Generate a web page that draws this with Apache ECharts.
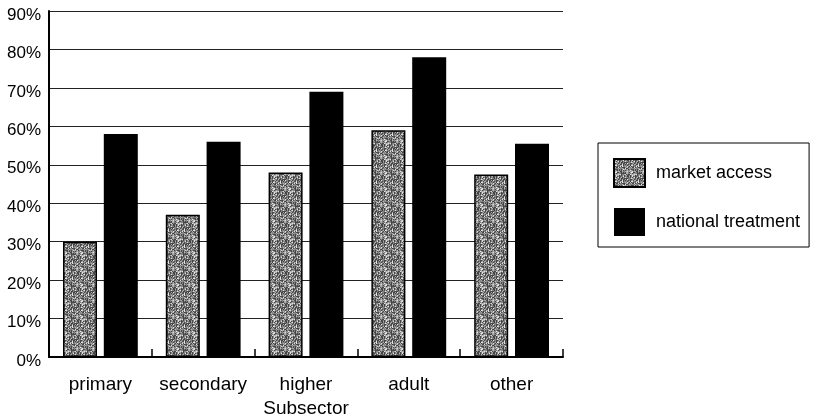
<!DOCTYPE html>
<html><head><meta charset="utf-8">
<script src="https://cdn.jsdelivr.net/npm/echarts@6/dist/echarts.min.js"></script>
<style>html,body{margin:0;padding:0;background:#fff}#c{width:816px;height:419px}</style>
</head><body><div id="c"></div>
<script>
const categories = ['primary','secondary','higher','adult','other'];
const marketAccess = [30, 37, 48, 59, 47.5];
const nationalTreatment = [58, 56, 69, 78, 55.5];
const yTicks = [0,10,20,30,40,50,60,70,80,90];

// speckled gray texture (deterministic hash)
const pc = document.createElement('canvas');
pc.width = 16; pc.height = 16;
const g = pc.getContext('2d');
for (let y = 0; y < 16; y++) {
  for (let x = 0; x < 16; x++) {
    const h = ((x * 73856093) ^ (y * 19349663) ^ ((x + y) * 83492791)) >>> 0;
    const r = (h % 97) / 97;
    const v = r < 0.3 ? 70 : (r < 0.65 ? 130 : (r < 0.85 ? 175 : 225));
    g.fillStyle = 'rgb(' + v + ',' + v + ',' + v + ')';
    g.fillRect(x, y, 1, 1);
  }
}
const pattern = {image: pc, repeat: 'repeat'};

const chart = echarts.init(document.getElementById('c'));
const font = 'Liberation Sans, Arial, sans-serif';
chart.setOption({
  animation: false,
  textStyle: {fontFamily: font},
  grid: {left: 49, right: 253, top: 11, bottom: 62, containLabel: false, outerBoundsMode: 'none'},
  legend: {
    orient: 'vertical', left: 598, top: 143,
    icon: 'rect',
    borderColor: '#000', borderWidth: 1, borderRadius: 0,
    padding: [15, 9, 11, 15],
    itemWidth: 31, itemHeight: 28, itemGap: 20,
    textStyle: {fontSize: 18, color: '#000', fontFamily: font, padding: [2,0,0,6]},
    data: ['market access', 'national treatment']
  },
  xAxis: {
    type: 'category', data: categories,
    name: 'Subsector', nameLocation: 'middle', nameGap: 35,
    nameTextStyle: {fontSize: 19, color: '#000', fontFamily: font},
    axisLine: {lineStyle: {color: '#000', width: 2}},
    axisTick: {show: true, inside: true, length: 8, lineStyle: {color: '#000', width: 1.5}},
    axisLabel: {fontSize: 19, color: '#000', margin: 18, fontFamily: font, interval: 0, hideOverlap: false}
  },
  yAxis: {
    type: 'value', min: 0, max: 90, interval: 10,
    axisLine: {show: true, lineStyle: {color: '#000', width: 2}},
    axisTick: {show: false},
    axisLabel: {fontSize: 17, color: '#000', margin: 8, fontFamily: font,
      verticalAlign: 'top', lineHeight: 8,
      formatter: v => yTicks.includes(v) ? v + '%' : ''},
    splitLine: {lineStyle: {color: '#222', width: 1}}
  },
  series: [
    {name: 'market access', type: 'bar', data: marketAccess,
     barWidth: 34, barGap: '20%',
     itemStyle: {color: pattern, borderColor: '#000', borderWidth: 1.5}},
    {name: 'national treatment', type: 'bar', data: nationalTreatment,
     barWidth: 34, barGap: '20%',
     itemStyle: {color: '#000'}}
  ]
});
</script></body></html>
